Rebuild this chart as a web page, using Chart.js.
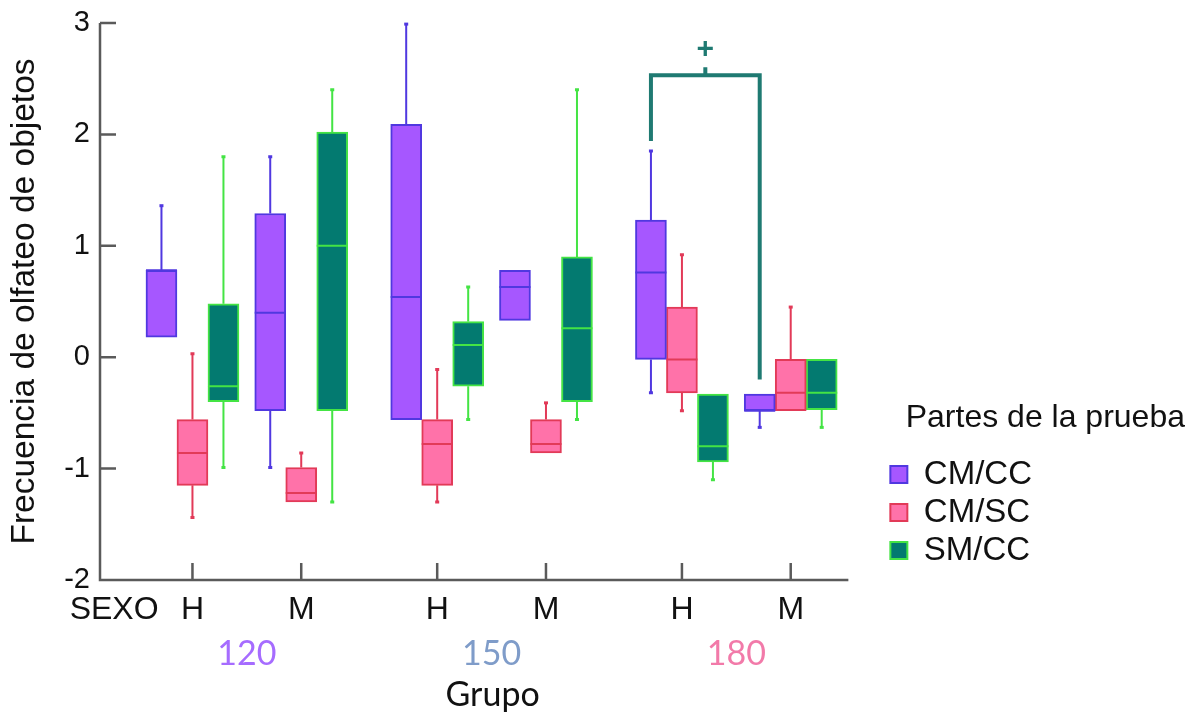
<!DOCTYPE html>
<html>
<head>
<meta charset="utf-8">
<script src="https://cdn.jsdelivr.net/npm/chart.js@4.4.1/dist/chart.umd.min.js"></script>
<style>
  html, body { margin: 0; padding: 0; background: #fff; }
  #wrap { width: 1195px; height: 719px; position: relative; }
</style>
</head>
<body>
<div id="wrap"><canvas id="chart"></canvas></div>
<script>
const grupos = ['120', '150', '180'];
const grupoColores = ['#a66cff', '#7f9cc9', '#f27aa9'];
const sexos = ['H', 'M'];
const partes = ['CM/CC', 'CM/SC', 'SM/CC'];
const yTicks = [-2, -1, 0, 1, 2, 3];

// orden: 120H, 120M, 150H, 150M, 180H, 180M
// [bigote inf, Q1, mediana, Q3, bigote sup]
const cmcc = [
  [0.18, 0.18, 0.78, 0.78, 1.36],
  [-0.99, -0.48, 0.40, 1.29, 1.80],
  [-0.56, -0.56, 0.54, 2.09, 2.99],
  [0.33, 0.33, 0.63, 0.78, 0.78],
  [-0.32, -0.02, 0.76, 1.23, 1.85],
  [-0.63, -0.48, -0.48, -0.33, -0.33]
];
const cmsc = [
  [-1.44, -1.15, -0.86, -0.56, 0.03],
  [-1.30, -1.30, -1.22, -0.99, -0.86],
  [-1.30, -1.15, -0.78, -0.56, -0.11],
  [-0.86, -0.86, -0.78, -0.56, -0.41],
  [-0.48, -0.32, -0.02, 0.45, 0.92],
  [-0.48, -0.48, -0.32, -0.02, 0.45]
];
const smcc = [
  [-0.99, -0.40, -0.26, 0.48, 1.80],
  [-1.30, -0.48, 1.00, 2.02, 2.40],
  [-0.56, -0.26, 0.11, 0.32, 0.63],
  [-0.56, -0.40, 0.26, 0.90, 2.40],
  [-1.10, -0.94, -0.80, -0.33, -0.33],
  [-0.63, -0.47, -0.32, -0.02, -0.02]
];

// llave de significancia (180: H CM/CC vs M CM/CC)
const llave = { desde: 4, hasta: 5, alto: 2.53, izq: 1.94, der: -0.20, texto: '+' };

const series = [cmcc, cmsc, smcc];
const relleno = ['#a657ff', '#ff72a9', '#037a70'];
const borde = ['#5038e0', '#e23a58', '#44e444'];

const ARIAL = "'Liberation Sans', Arial, sans-serif";
const GAP = 2.25;            // separacion entre grupos
const xMin = -0.85, xMax = 6.37, xEnd = 6.03;

// posicion de cada caja en el eje x (grupo, sexo)
function slotX(k) {
  return Math.floor(k / 2) * GAP + (k % 2);
}
const slots = [0, 1, 2, 3, 4, 5].map(slotX);

const cajasPlugin = {
  id: 'cajas',
  afterLayout(chart) {
    // leyenda mas ancha para que el titulo quede a la derecha
    const lg = chart.legend;
    lg.right = chart.width - 10;
    lg.width = lg.right - lg.left;
    lg.bottom = chart.chartArea.bottom - 8;
    lg.height = lg.bottom - lg.top;
  },
  afterDatasetsDraw(chart) {
    const { ctx, scales: { x, y } } = chart;
    series.forEach((serie, d) => {
      const meta = chart.getDatasetMeta(d);
      if (meta.hidden) return;
      ctx.save();
      ctx.strokeStyle = borde[d];
      serie.forEach((b, k) => {
        const bar = meta.data[k];
        const cx = bar.x, half = bar.width / 2;
        const [lo, q1, med, q3, hi] = b.map(v => y.getPixelForValue(v));
        ctx.lineWidth = 2;
        ctx.beginPath();
        ctx.moveTo(cx - half, med); ctx.lineTo(cx + half, med);
        if (hi < q3 - 1) { ctx.moveTo(cx, q3); ctx.lineTo(cx, hi); }
        if (lo > q1 + 1) { ctx.moveTo(cx, q1); ctx.lineTo(cx, lo); }
        ctx.stroke();
        ctx.lineWidth = 3;
        ctx.beginPath();
        if (hi < q3 - 1) { ctx.moveTo(cx - 2, hi); ctx.lineTo(cx + 2, hi); }
        if (lo > q1 + 1) { ctx.moveTo(cx - 2, lo); ctx.lineTo(cx + 2, lo); }
        ctx.stroke();
      });
      ctx.restore();
    });

    // ejes con marcas hacia dentro
    const area = chart.chartArea;
    ctx.save();
    ctx.strokeStyle = '#5a5a5a';
    ctx.lineWidth = 2.5;
    ctx.beginPath();
    ctx.moveTo(area.left, y.getPixelForValue(3));
    ctx.lineTo(area.left, area.bottom);
    ctx.lineTo(x.getPixelForValue(xEnd), area.bottom);
    yTicks.forEach(v => {
      const py = y.getPixelForValue(v);
      ctx.moveTo(area.left, py); ctx.lineTo(area.left + 16, py);
    });
    slots.forEach(v => {
      const px = x.getPixelForValue(v);
      ctx.moveTo(px, area.bottom); ctx.lineTo(px, area.bottom - 17);
    });
    ctx.stroke();
    ctx.restore();

    // llave
    const m0 = chart.getDatasetMeta(0);
    const xl = m0.data[llave.desde].x, xr = m0.data[llave.hasta].x;
    const yt = y.getPixelForValue(llave.alto);
    ctx.save();
    ctx.strokeStyle = '#1f7a72';
    ctx.fillStyle = '#1f7a72';
    ctx.lineWidth = 4;
    ctx.beginPath();
    ctx.moveTo(xl, y.getPixelForValue(llave.izq));
    ctx.lineTo(xl, yt);
    ctx.lineTo(xr, yt);
    ctx.lineTo(xr, y.getPixelForValue(llave.der));
    const xm = (xl + xr) / 2;
    ctx.moveTo(xm, yt); ctx.lineTo(xm, yt - 8);
    ctx.stroke();
    ctx.font = 'bold 30px ' + ARIAL;
    ctx.textAlign = 'center';
    ctx.textBaseline = 'middle';
    ctx.fillText(llave.texto, xm, yt - 26);
    ctx.restore();
  }
};

new Chart(document.getElementById('chart'), {
  type: 'bar',
  data: {
    datasets: partes.map((p, d) => ({
      label: p,
      data: series[d].map((b, k) => ({ x: slots[k], y: [b[1], b[3]] })),
      backgroundColor: relleno[d],
      borderColor: borde[d],
      borderWidth: 2,
      borderSkipped: false,
      barThickness: 31,
      xAxisID: 'x',
      yAxisID: 'y'
    }))
  },
  options: {
    responsive: true,
    maintainAspectRatio: false,
    animation: false,
    layout: { padding: { top: 23, left: 0, right: 153, bottom: 3 } },
    plugins: {
      tooltip: { enabled: false },
      legend: {
        position: 'right',
        align: 'end',
        labels: {
          boxWidth: 17, boxHeight: 17, padding: 5,
          color: '#111',
          font: { family: ARIAL, size: 33 }
        },
        title: {
          display: true,
          text: 'Partes de la prueba',
          position: 'end',
          color: '#111',
          padding: { top: 0, bottom: 12 },
          font: { family: ARIAL, size: 32 }
        }
      }
    },
    scales: {
      x: {
        type: 'linear', position: 'bottom', min: xMin, max: xMax, offset: false,
        afterBuildTicks(s) {
          s.ticks = [{ value: xMin + 0.13 }].concat(slots.map(v => ({ value: v })));
        },
        afterFit(s) { s.height = 47; },
        ticks: {
          autoSkip: false, maxRotation: 0, padding: 11, color: '#111',
          font: { family: ARIAL, size: 32 },
          callback: (v, i) => i === 0 ? 'SEXO' : sexos[(i - 1) % 2]
        },
        grid: { display: false, drawTicks: false },
        border: { display: false }
      },
      x2: {
        type: 'linear', position: 'bottom', min: xMin, max: xMax, offset: false,
        afterBuildTicks(s) {
          s.ticks = grupos.map((g, i) => ({ value: i * GAP + 0.5 }));
        },
        afterFit(s) { s.height = 89; },
        ticks: {
          autoSkip: false, maxRotation: 0, padding: 7,
          color: c => grupoColores[c.index],
          font: { family: 'Lato', size: 34 },
          callback: (v, i) => grupos[i]
        },
        grid: { display: false, drawTicks: false },
        border: { display: false },
        title: {
          display: true, text: 'Grupo', color: '#111',
          font: { family: 'Lato', size: 34 },
          padding: { top: 0, bottom: 1 }
        }
      },
      y: {
        min: -2, max: 3,
        afterBuildTicks(s) { s.ticks = yTicks.map(v => ({ value: v })); },
        afterFit(s) { s.width = 100; s.paddingTop = 0; s.paddingBottom = 0; },
        ticks: { padding: 10, color: '#111', font: { family: ARIAL, size: 29 } },
        grid: { display: false, drawTicks: false },
        border: { display: false },
        title: {
          display: true, text: 'Frecuencia de olfateo de objetos', color: '#111',
          font: { family: ARIAL, size: 33.5 },
          padding: { top: 5, bottom: 0 }
        }
      }
    }
  },
  plugins: [cajasPlugin]
});
</script>
</body>
</html>
